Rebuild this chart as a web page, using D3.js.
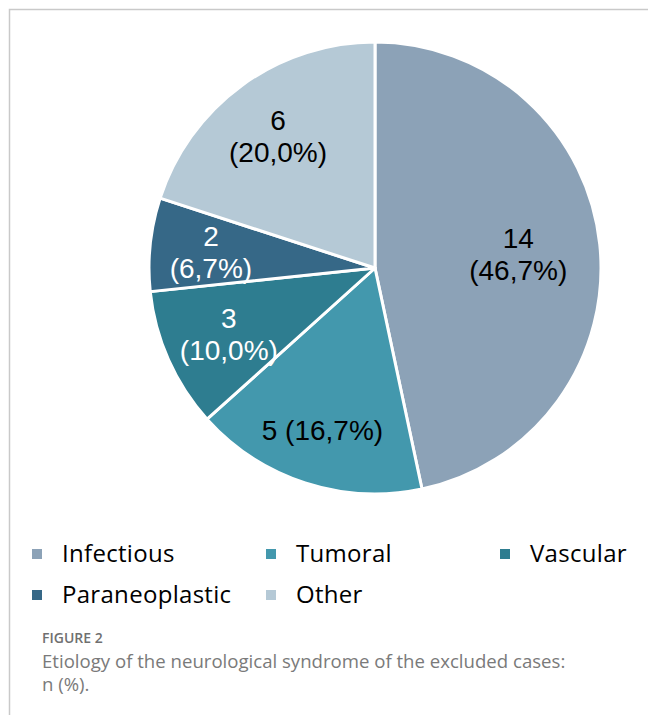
<!DOCTYPE html>
<html>
<head>
<meta charset="utf-8">
<script src="https://cdn.jsdelivr.net/npm/d3@7"></script>
<style>
  html, body { margin: 0; padding: 0; background: #fff; }
  svg { display: block; }
</style>
</head>
<body>
<svg id="chart" width="648" height="715"></svg>
<script>
// data
const categories = ['Infectious', 'Tumoral', 'Vascular', 'Paraneoplastic', 'Other'];
const counts = [14, 5, 3, 2, 6];
const colors = ['#8ca2b7', '#4398ad', '#2e7d90', '#366887', '#b5c9d6'];
const labelColors = ['#000', '#000', '#fff', '#fff', '#000'];
const figureTitle = 'FIGURE 2';
const captionLines = ['Etiology of the neurological syndrome of the excluded cases:', 'n (%).'];

const svg = d3.select('#chart');
const width = +svg.attr('width');
const height = +svg.attr('height');

svg.append('rect').attr('width', width).attr('height', height).attr('fill', '#fff');

// page frame
svg.append('path')
  .attr('d', `M9.5,${height}V9.5H${width}`)
  .attr('fill', 'none')
  .attr('stroke', '#c9c9c9')
  .attr('stroke-width', 1.5);

const cx = 375;
const cy = 268;
const radius = 226;

const data = categories.map((c, i) => ({ category: c, value: counts[i], i }));
const total = d3.sum(counts);

const pie = d3.pie().value(d => d.value).sort(null);
const arc = d3.arc().innerRadius(0).outerRadius(radius);

const chart = svg.append('g').attr('transform', `translate(${cx},${cy})`);

const arcs = pie(data);

chart.selectAll('.slice')
  .data(arcs)
  .enter()
  .append('path')
  .attr('class', 'slice')
  .attr('d', arc)
  .attr('fill', d => colors[d.data.i])
  .attr('stroke', '#fff')
  .attr('stroke-width', 3)
  .attr('stroke-linejoin', 'round');

// where excel put the labels (distance from centre)
const labelRadius = { Infectious: 144, Tumoral: 170, Vascular: 160 };
const singleLine = ['Tumoral'];
const pct = v => d3.format('.1f')(v / total * 100).replace('.', ',') + '%';

chart.selectAll('.label')
  .data(arcs)
  .enter()
  .append('text')
  .attr('class', 'label')
  .attr('text-anchor', 'middle')
  .attr('font-family', 'Liberation Sans, Arial, sans-serif')
  .attr('font-size', 28)
  .attr('fill', d => labelColors[d.data.i])
  .each(function (d) {
    const r = labelRadius[d.data.category] || 165;
    const [x, y] = d3.arc().innerRadius(r).outerRadius(r).centroid(d);
    const t = d3.select(this);
    if (singleLine.includes(d.data.category)) {
      t.append('tspan').attr('x', x).attr('y', y + 10)
        .text(`${d.data.value} (${pct(d.data.value)})`);
    } else {
      t.append('tspan').attr('x', x).attr('y', y - 5).text(d.data.value);
      t.append('tspan').attr('x', x).attr('y', y + 27).text(`(${pct(d.data.value)})`);
    }
  });

// legend, 3 columns
const colX = d3.scaleLinear().domain([0, 2]).range([32, 500]);
const rowY = d3.scaleLinear().domain([0, 1]).range([562, 603]);

const legend = svg.append('g')
  .selectAll('.legend-item')
  .data(data)
  .enter()
  .append('g')
  .attr('class', 'legend-item')
  .attr('transform', d => `translate(${colX(d.i % 3)},${rowY(Math.floor(d.i / 3))})`);

legend.append('rect')
  .attr('x', 0)
  .attr('y', -13)
  .attr('width', 10)
  .attr('height', 10)
  .attr('fill', d => colors[d.i]);

legend.append('text')
  .attr('x', 30)
  .attr('y', 0)
  .attr('font-family', 'Open Sans, sans-serif')
  .attr('font-size', 24)
  .attr('letter-spacing', 0.3)
  .attr('fill', '#000')
  .text(d => d.category);

// caption
svg.append('text')
  .attr('x', 42)
  .attr('y', 643)
  .attr('font-family', 'Open Sans, sans-serif')
  .attr('font-size', 14)
  .attr('font-weight', 600)
  .attr('fill', '#707070')
  .text(figureTitle);

svg.append('g')
  .selectAll('text')
  .data(captionLines)
  .enter()
  .append('text')
  .attr('x', 42)
  .attr('y', (d, i) => 668 + i * 23)
  .attr('font-family', 'Open Sans, sans-serif')
  .attr('font-size', 18.6)
  .attr('fill', '#7a7a7a')
  .text(d => d);
</script>
</body>
</html>
